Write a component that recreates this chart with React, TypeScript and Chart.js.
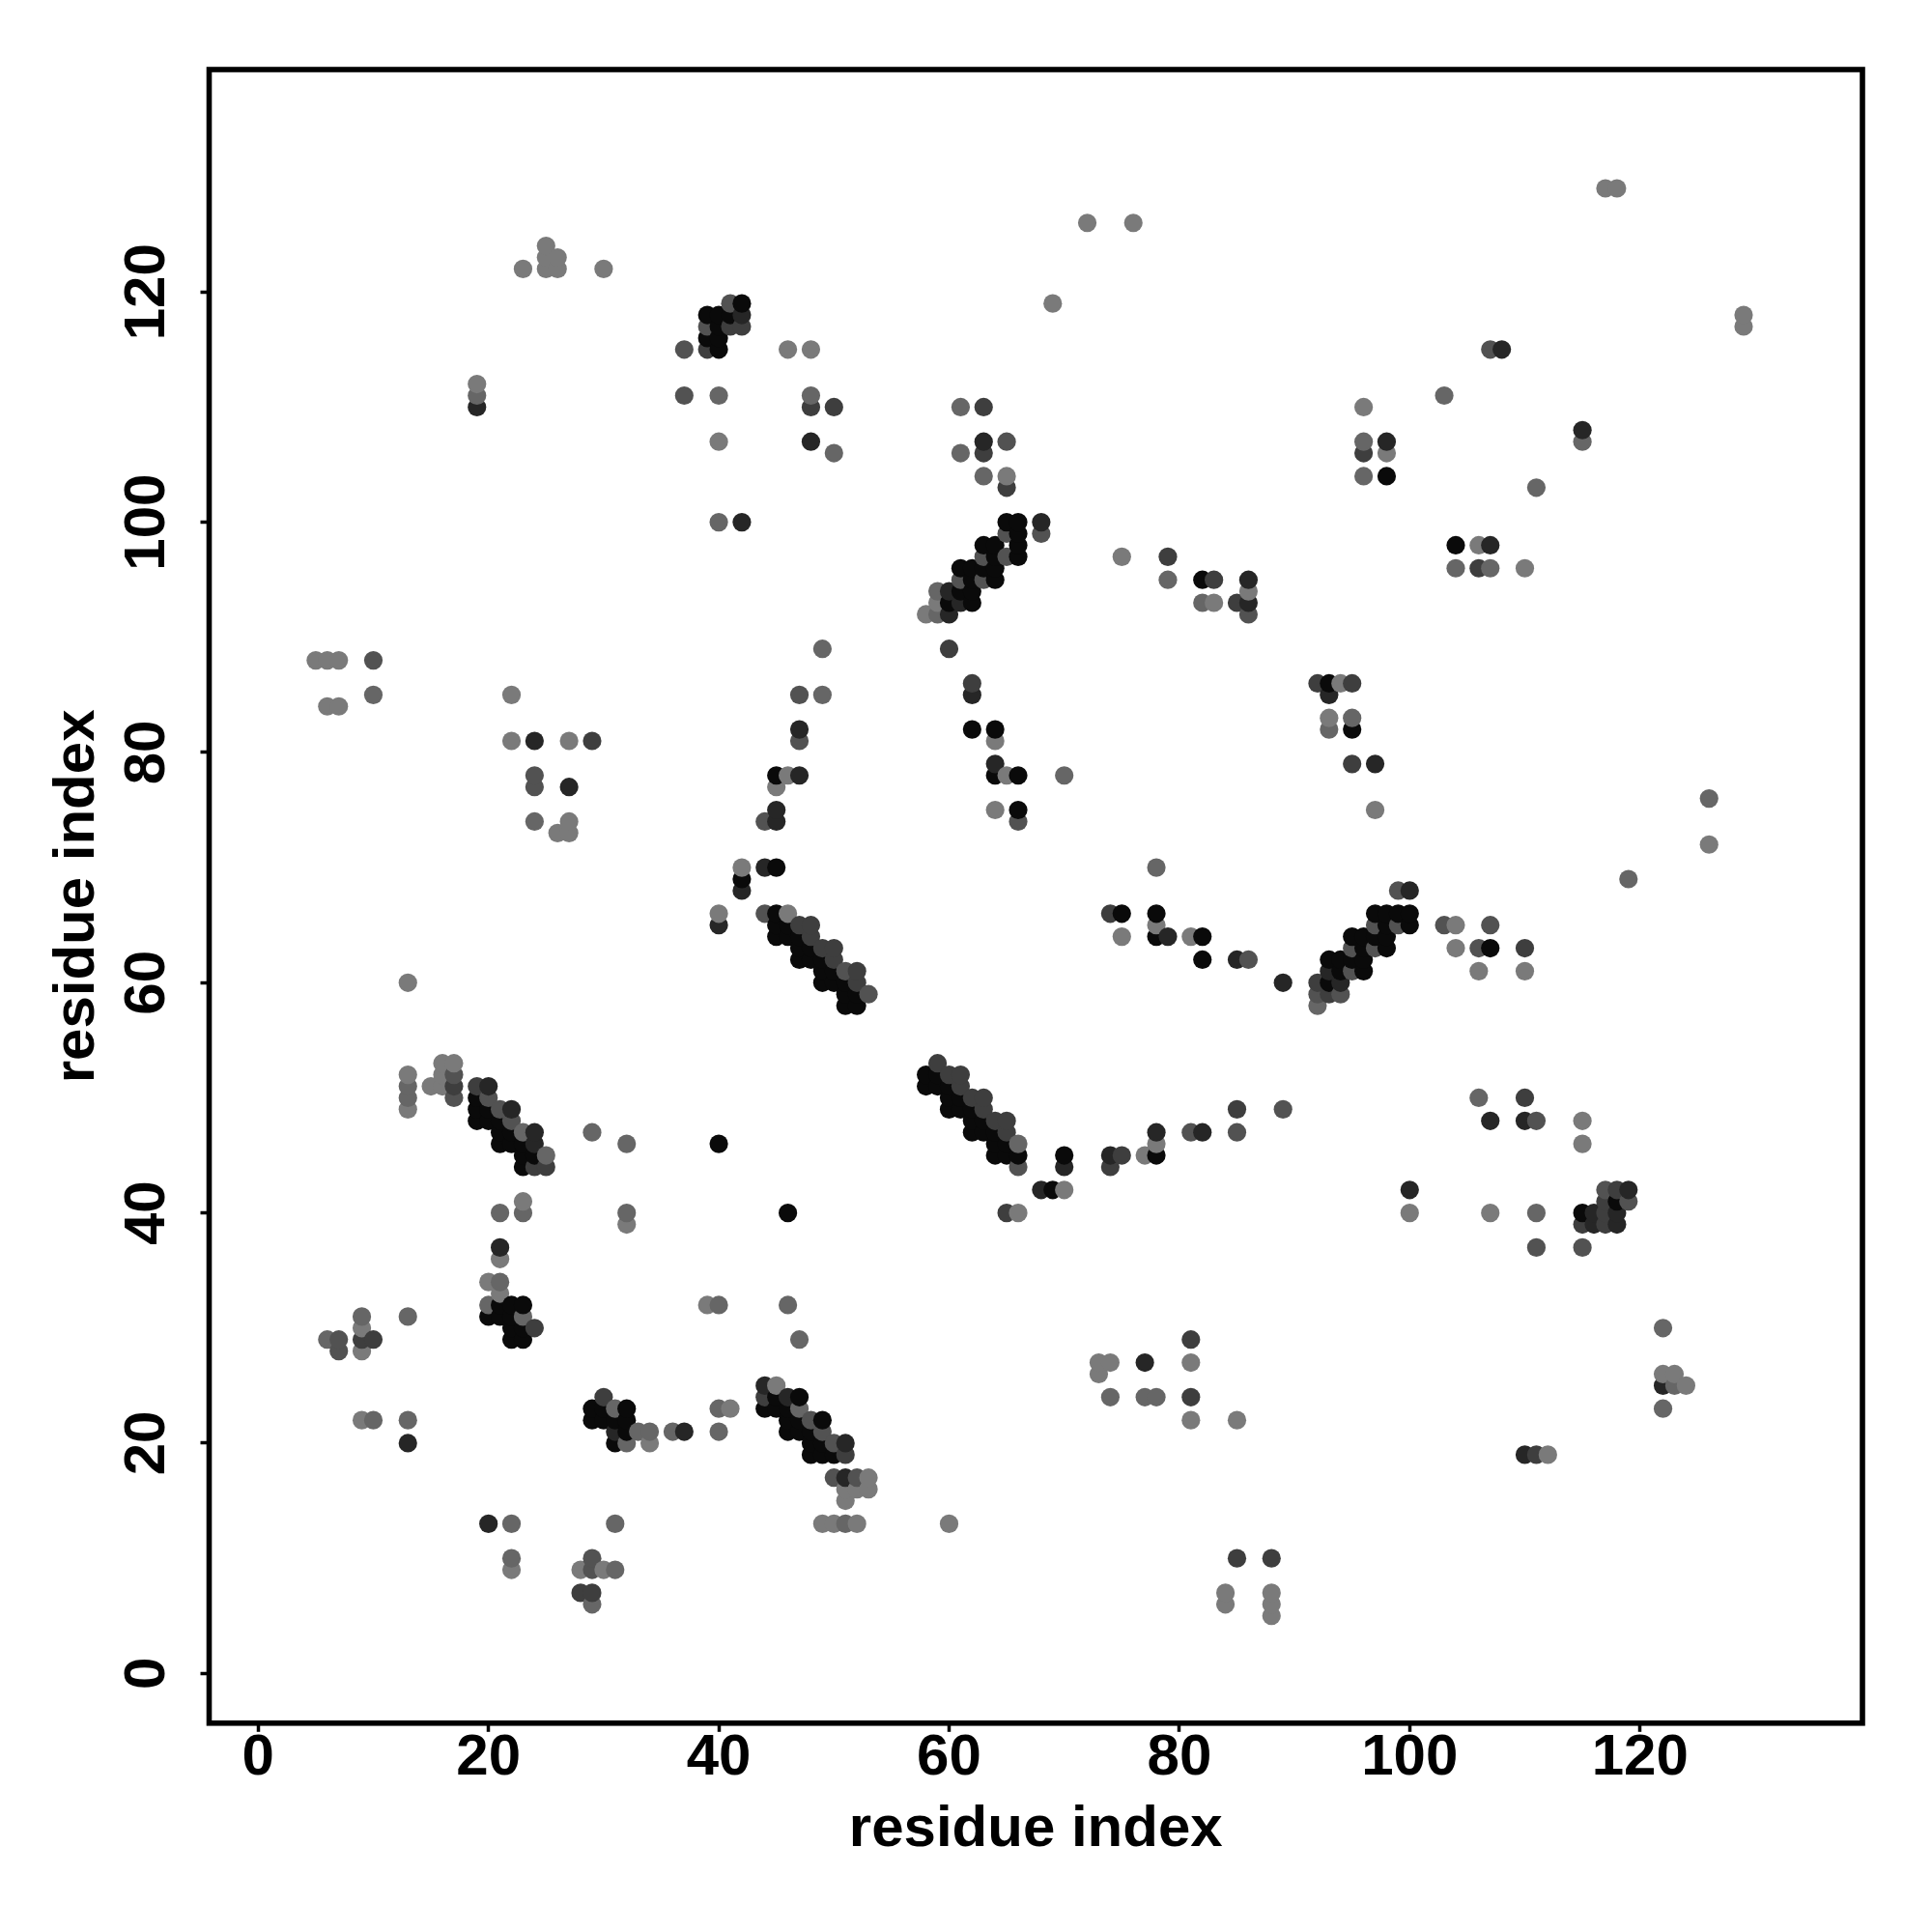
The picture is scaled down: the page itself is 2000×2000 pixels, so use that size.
import React, { useEffect, useRef } from "react";
import { Chart, registerables } from "chart.js";

Chart.register(...registerables);

type P = [number, number];

const xTicks = [0, 20, 40, 60, 80, 100, 120];
const yTicks = [0, 20, 40, 60, 80, 100, 120];
const axisLabel = "residue index";

const shadeBlack: P[] = [
  [39,118],[40,118],[41,118],[40,117],[39,116],[40,116],[40,115],[42,119],
  [98,104],[104,98],[82,95],[65,100],[66,100],[66,99],[63,98],[64,98],[66,98],[64,97],[66,97],
  [61,96],[62,96],[63,96],[64,96],[62,95],[64,95],[61,94],[62,94],[60,93],[62,93],
  [93,86],[62,82],[64,82],[95,82],[64,78],[45,78],[66,78],[66,75],
  [45,70],[42,69],[45,66],[75,66],[78,66],[97,66],[98,66],[99,66],[100,66],[45,65],[46,65],[98,65],[100,65],
  [45,64],[46,64],[47,64],[78,64],[82,64],[95,64],[96,64],[97,64],[98,64],[47,63],[48,63],[96,63],[98,63],[107,63],
  [47,62],[48,62],[49,62],[82,62],[93,62],[94,62],[95,62],[96,62],[49,61],[50,61],[94,61],[96,61],
  [49,60],[50,60],[51,60],[93,60],[51,59],[52,59],[51,58],[52,58],
  [58,52],[59,52],[58,51],[59,51],[60,51],[60,50],[61,50],[60,49],[61,49],[62,49],[62,48],[63,48],
  [62,47],[63,47],[64,47],[64,46],[65,46],[64,45],[65,45],[66,45],[70,45],[78,45],[69,42],
  [19,50],[19,49],[20,49],[19,48],[20,48],[21,48],[21,47],[22,47],[21,46],[22,46],[23,46],[23,45],[24,45],[23,44],
  [40,46],[46,40],[115,40],[118,41],
  [21,32],[22,32],[23,32],[20,31],[21,31],[22,31],[22,30],[23,30],[22,29],[23,29],
  [29,23],[30,23],[32,23],[29,22],[30,22],[31,22],[32,22],[32,21],[31,20],
  [44,23],[45,23],[46,23],[45,24],[47,24],[46,22],[47,22],[49,22],[46,21],[47,21],[48,21],[48,20],[49,20],[48,19],[49,19],[50,19],
];

const shadeDark: P[] = [
  [42,118],[19,110],[108,115],[48,107],[63,107],[98,107],[115,108],[42,100],[68,100],[107,98],[86,95],[86,93],
  [60,92],[61,93],[60,94],[93,85],[62,85],[47,82],[24,81],[64,79],[97,79],[47,78],[27,77],[45,75],[45,74],[42,68],[44,70],
  [100,68],[79,64],[85,62],[89,60],[93,61],[94,60],[70,44],[78,47],[82,47],[74,45],[107,48],[110,48],[100,42],[68,42],
  [21,37],[24,47],[24,46],[20,51],[22,49],[116,40],[116,39],[118,40],[118,39],[119,42],[37,21],[31,21],
  [20,13],[13,20],[77,27],[122,25],[110,19],[51,20],[51,17],[46,24],[44,25],[40,65],
];

const shadeDarkMid: P[] = [
  [48,110],[50,110],[63,110],[63,106],[96,106],[65,103],[106,96],[85,93],[79,97],[83,95],[29,81],[62,86],[92,86],[95,86],[95,79],
  [74,66],[47,65],[48,65],[48,64],[49,63],[50,63],[50,62],[52,61],[52,60],[92,60],[93,59],[110,63],[110,50],[85,49],
  [59,53],[60,52],[61,52],[61,51],[62,50],[63,50],[63,49],[64,48],[65,48],[65,47],[74,44],[75,45],[65,40],[60,89],
  [115,39],[117,39],[117,41],[118,42],[117,40],[81,29],[81,24],[30,24],[24,44],[25,44],[24,30],[44,24],[9,29],[10,29],[28,7],[29,7],
  [85,10],[88,10],[111,19],[41,117],[42,117],[39,115],[17,51],[19,51],[51,19],
];

const shadeMidDark: P[] = [
  [41,119],[37,115],[107,115],[37,111],[65,107],[10,88],[47,85],[24,78],[24,77],[65,99],[68,99],[99,68],[44,74],[66,74],[103,65],[107,65],
  [106,63],[86,62],[51,61],[53,59],[92,59],[94,59],[89,49],[85,47],[81,47],[66,44],[111,48],[115,37],[111,37],[117,42],[119,41],
  [7,29],[7,28],[29,10],[29,9],[17,50],[17,52],[21,49],[22,48],[20,50],[50,20],[50,17],[52,17],[47,81],[44,66],[63,97],[61,95],[63,95],
  [97,65],[99,65],[97,63],[95,63],[95,61],[65,97],[39,117],[86,92],[48,22],[49,21],
];

const shadeMid: P[] = [
  [48,111],[19,111],[40,111],[103,111],[61,110],[61,106],[50,106],[96,107],[96,104],[63,104],[115,107],[111,103],[40,100],
  [104,96],[107,96],[79,95],[82,93],[49,89],[10,85],[49,85],[93,82],[95,83],[70,78],[24,74],[119,69],[78,70],[126,76],
  [13,51],[13,50],[21,40],[23,40],[32,40],[29,47],[32,46],[122,30],[74,24],[77,24],[78,24],[123,25],[106,50],[111,40],
  [46,32],[40,32],[21,34],[9,31],[13,31],[10,22],[13,22],[6,29],[23,31],[20,32],[31,13],[22,13],[22,10],[31,9],
  [33,21],[34,21],[36,21],[40,21],[40,23],[32,20],[31,23],[47,23],[51,13],[47,29],[25,45],[66,46],[92,58],[59,94],[59,92],[23,47],[29,6],[122,23],
];

const shadeLight: P[] = [
  [117,129],[118,129],[72,126],[76,126],[25,124],[25,123],[26,123],[26,122],[30,122],[23,122],[25,122],[69,119],[129,118],[129,117],
  [46,115],[48,115],[19,112],[96,110],[40,107],[98,106],[65,104],[106,98],[75,97],[110,96],[86,94],[83,93],[58,92],[59,93],
  [5,88],[6,88],[7,88],[22,85],[6,84],[7,84],[93,83],[94,86],[22,81],[27,81],[64,81],[46,78],[65,78],[45,77],[64,75],[97,75],
  [27,74],[26,73],[27,73],[126,72],[42,70],[40,66],[46,66],[78,65],[104,65],[75,64],[81,64],[104,63],[106,61],[110,61],[13,60],
  [16,53],[17,53],[13,52],[16,52],[15,51],[16,51],[13,49],[115,48],[115,46],[77,45],[78,46],[70,42],[23,41],[32,39],[66,40],[100,40],[107,40],
  [21,36],[20,34],[21,33],[39,32],[9,30],[9,28],[73,27],[74,27],[81,27],[73,26],[122,26],[123,26],[124,25],[41,23],[45,25],
  [9,22],[81,22],[85,22],[34,20],[112,19],[53,17],[51,16],[52,16],[53,16],[51,15],[49,13],[50,13],[52,13],[60,13],
  [22,9],[28,9],[30,9],[84,7],[88,7],[84,6],[88,6],[88,5],
];

const shades: [P[], string][] = [
  [shadeBlack, "#0a0a0a"],
  [shadeDark, "#262626"],
  [shadeDarkMid, "#3e3e3e"],
  [shadeMidDark, "#525252"],
  [shadeMid, "#666666"],
  [shadeLight, "#7a7a7a"],
];

// The source draws its points ordered by x, then by y: later ones cover earlier ones.
const points = shades
  .flatMap(([list, color]) => list.map(([x, y]) => ({ x, y, color })))
  .sort((a, b) => a.x - b.x || a.y - b.y);

const FONT = '"Liberation Sans", Arial, sans-serif';

const frame = {
  id: "frame",
  afterDatasetsDraw(chart: Chart) {
    const { ctx, chartArea: a } = chart;
    ctx.save();
    ctx.strokeStyle = "#000";
    ctx.lineWidth = 5.6;
    ctx.strokeRect(a.left, a.top, a.right - a.left, a.bottom - a.top);
    ctx.restore();
  },
};

export default function App() {
  const ref = useRef<HTMLCanvasElement>(null);
  useEffect(() => {
    document.body.style.margin = "0";
    document.body.style.background = "#fff";
    const chart = new Chart(ref.current!, {
      type: "scatter",
      data: {
        datasets: [
          {
            data: points.map((p) => ({ x: p.x, y: p.y })),
            pointBackgroundColor: points.map((p) => p.color),
            pointBorderWidth: 0,
            pointRadius: 9.6,
            showLine: false,
          },
        ],
      },
      plugins: [frame],
      options: {
        responsive: false,
        animation: false,
        layout: { padding: { top: 72, right: 72, left: 0, bottom: 0 } },
        plugins: { legend: { display: false }, tooltip: { enabled: false } },
        scales: {
          x: {
            type: "linear",
            min: -4.26,
            max: 139.32,
            afterBuildTicks: (s: any) => { s.ticks = xTicks.map((value) => ({ value })); },
            afterFit: (s: any) => { s.height = 216.2; },
            border: { display: false },
            grid: { drawOnChartArea: false, drawTicks: true, tickLength: 9, tickWidth: 3.5, tickColor: "#000" },
            ticks: { color: "#000", font: { family: FONT, size: 60, weight: "bold" }, padding: -8, maxRotation: 0, minRotation: 0 },
            title: { display: true, text: axisLabel, color: "#000", font: { family: FONT, size: 60, weight: "bold" }, padding: { top: 0, bottom: 70 } },
          },
          y: {
            type: "linear",
            min: -4.32,
            max: 139.32,
            afterBuildTicks: (s: any) => { s.ticks = yTicks.map((value) => ({ value })); },
            afterFit: (s: any) => { s.width = 216.5; },
            border: { display: false },
            grid: { drawOnChartArea: false, drawTicks: true, tickLength: 9, tickWidth: 3.5, tickColor: "#000" },
            ticks: { color: "#000", font: { family: FONT, size: 60, weight: "bold" }, padding: 4, minRotation: 90, maxRotation: 90, crossAlign: "center" },
            title: { display: true, text: axisLabel, color: "#000", font: { family: FONT, size: 60, weight: "bold" }, padding: { top: 44, bottom: 0 } },
          },
        },
      },
    } as any);
    return () => chart.destroy();
  }, []);
  return <canvas ref={ref} width={2000} height={2000} style={{ display: "block" }} />;
}
